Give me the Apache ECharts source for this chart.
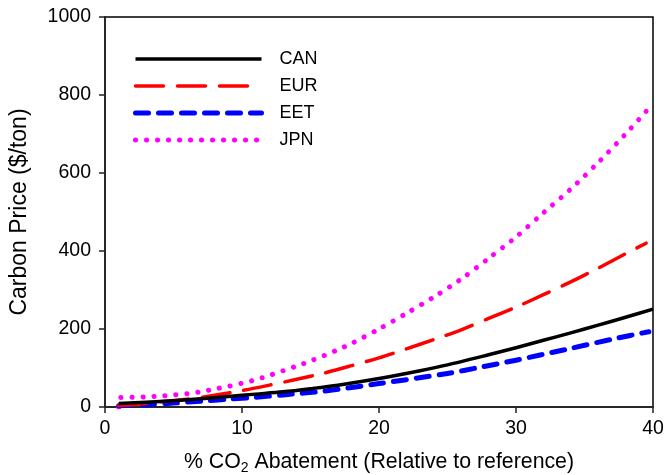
<!DOCTYPE html>
<html>
<head>
<meta charset="utf-8">
<script src="https://cdn.jsdelivr.net/npm/echarts@6/dist/echarts.min.js"></script>
<style>
html,body{margin:0;padding:0;background:#fff;}
#chart{width:665px;height:475px;}
</style>
</head>
<body>
<div id="chart"></div>
<script>
// Series names
const seriesNames = ['CAN', 'EUR', 'EET', 'JPN'];

// CAN (solid black)
const canX = [1, 3, 5, 7, 9, 11, 13, 15, 17, 20, 23, 25, 28, 30, 32, 34, 36, 38, 40];
const canY = [9, 12, 16, 21, 27, 33, 39, 47, 56, 73, 93, 108, 134, 152, 171, 190, 210, 230, 251];

// EUR (long red dashes)
const eurX = [1, 2, 4, 6, 8, 10, 12, 14, 16, 18, 20, 22, 24, 26, 28, 30, 32, 34, 36, 38, 39.5];
const eurY = [4, 6, 13, 20, 30, 42, 56, 71, 87, 106, 126, 149, 173, 198, 227, 256, 288, 321, 356, 393, 420];

// EET (short blue dashes)
const eetX = [1, 3, 5, 7, 9, 11, 13, 16, 20, 25, 27.4, 30, 33.7, 37.3, 39.7];
const eetY = [3, 6, 10, 15, 20, 25, 31, 41, 60, 86, 102, 120, 148, 176, 193];

// JPN (magenta dots)
const jpnX = [1, 1.05, 2, 3, 4, 5, 6, 7, 8, 9, 10, 11, 12, 13, 14, 15, 16, 17, 18, 20, 22, 24, 26, 28, 30, 32, 34, 36, 38, 39.5];
const jpnY = [0, 24, 25, 26, 28, 31, 34, 39, 46, 53, 61, 70, 81, 93, 105, 118, 132, 147, 163, 200, 240, 282, 328, 381, 436, 498, 559, 627, 700, 758];

// Axis ticks
const xTicks = [0, 10, 20, 30, 40];
const yTicks = [0, 200, 400, 600, 800, 1000];

const pairs = (xs, ys) => xs.map((x, i) => [x, ys[i]]);

const FONT = '"Liberation Sans", Arial, sans-serif';

const chart = echarts.init(document.getElementById('chart'), null, {renderer: 'canvas'});

const styles = [
  {color: '#000000', width: 3.5, type: 'solid', cap: 'butt'},
  {color: '#ff0000', width: 3.5, type: [28, 14], cap: 'round'},
  {color: '#0000ff', width: 5, type: [13, 10], cap: 'round'},
  {color: '#ff00ff', width: 5, type: [0.1, 10.9], cap: 'round'}
];
const datasets = [pairs(canX, canY), pairs(eurX, eurY), pairs(eetX, eetY), pairs(jpnX, jpnY)];

chart.setOption({
  animation: false,
  backgroundColor: '#ffffff',
  grid: {
    left: 105, right: 12, top: 17, bottom: 68,
    containLabel: false,
    outerBoundsMode: 'none',
    show: true, borderColor: '#000', borderWidth: 1.5, backgroundColor: 'transparent'
  },
  legend: {
    orient: 'vertical',
    left: 128, top: 45,
    itemWidth: 126, itemHeight: 18, itemGap: 9,
    data: seriesNames,
    itemStyle: {opacity: 0},
    lineStyle: {width: 'inherit', type: 'inherit', cap: 'inherit', color: 'inherit'},
    textStyle: {fontFamily: FONT, fontSize: 18, color: '#000', padding: [0, 0, 0, 13]}
  },
  xAxis: {
    type: 'value',
    min: xTicks[0], max: xTicks[xTicks.length - 1], interval: 10,
    name: '% CO{sub|2} Abatement (Relative to reference)',
    nameLocation: 'middle',
    nameGap: 42,
    nameTextStyle: {
      fontFamily: FONT, fontSize: 21.3, color: '#000',
      rich: {sub: {fontFamily: FONT, fontSize: 14, color: '#000', verticalAlign: 'bottom', padding: [12, 0, 0, 0]}}
    },
    axisLine: {lineStyle: {color: '#222', width: 1.5}},
    axisTick: {show: true, inside: false, length: 6, lineStyle: {color: '#222', width: 1.5}},
    axisLabel: {fontFamily: FONT, fontSize: 19.5, color: '#000', margin: 12},
    splitLine: {show: false}
  },
  yAxis: {
    type: 'value',
    min: yTicks[0], max: yTicks[yTicks.length - 1], interval: 200,
    name: 'Carbon Price ($/ton)',
    nameLocation: 'middle',
    nameGap: 74,
    nameTextStyle: {fontFamily: FONT, fontSize: 23, color: '#000'},
    axisLine: {lineStyle: {color: '#222', width: 1.5}},
    axisTick: {show: true, inside: false, length: 6, lineStyle: {color: '#222', width: 1.5}},
    axisLabel: {fontFamily: FONT, fontSize: 19.5, color: '#000', margin: 14, formatter: v => String(v)},
    splitLine: {show: false}
  },
  series: seriesNames.map((name, i) => ({
    name: name,
    type: 'line',
    data: datasets[i],
    smooth: 0.3,
    showSymbol: false,
    symbol: 'none',
    color: styles[i].color,
    lineStyle: {color: styles[i].color, width: styles[i].width, type: styles[i].type, cap: styles[i].cap, join: 'round'},
    clip: true,
    z: 10 - i
  }))
});
</script>
</body>
</html>
